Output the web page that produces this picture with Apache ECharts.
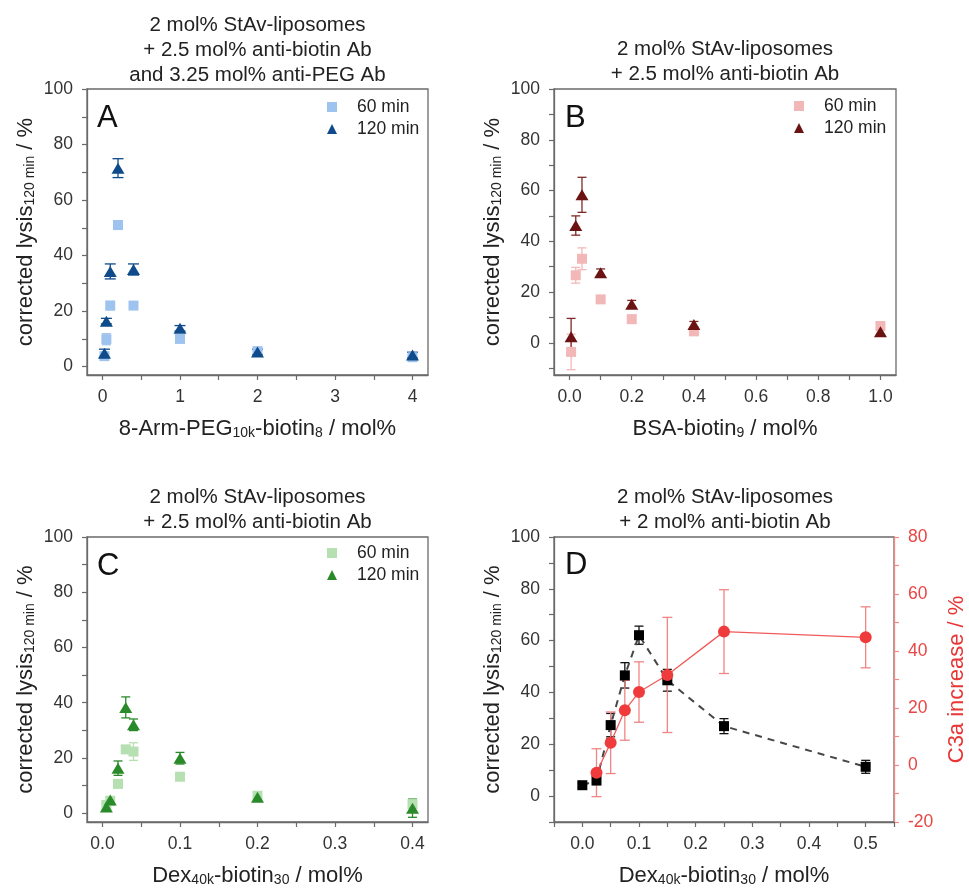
<!DOCTYPE html>
<html>
<head>
<meta charset="utf-8">
<script src="https://cdn.jsdelivr.net/npm/echarts@6/dist/echarts.min.js"></script>
<style>html,body{margin:0;padding:0;background:#fff}#c{width:969px;height:890px}</style>
</head>
<body>
<div id="c"></div>
<script>
// ---------------- DATA ----------------
// Panel A: 8-Arm-PEG10k-biotin8
const aX = [0.025, 0.05, 0.1, 0.2, 0.4, 1, 2, 4];
const a60 = [3.8, 9.9, 22, 51, 22, 10, 5.6, 3.4];
const a60Err = [1, 2, 1.5, 1.5, 1, 0.8, 1, 0.8];
const a120 = [4.8, 16.4, 34.3, 71.5, 35, 13.8, 5.3, 4.2];
const a120Err = [1.5, 1, 2.7, 3.4, 2, 1, 1, 1];

// Panel B: BSA-biotin9
const bX = [0.005, 0.02, 0.04, 0.1, 0.2, 0.4, 1.0];
const b60 = [-3.6, 26.6, 33.1, 17.1, 9.3, 4.5, 6.6];
const b60Err = [7, 3.1, 4.3, 1, 1.5, 1, 1];
const b120 = [2.4, 46.2, 58.3, 27.6, 15.2, 7.2, 4.3];
const b120Err = [7.2, 3.8, 6.9, 1.5, 1.5, 1.2, 1];

// Panel C: Dex40k-biotin30
const cX = [0.005, 0.01, 0.02, 0.03, 0.04, 0.1, 0.2, 0.4];
const c60 = [3.0, 4.5, 10.6, 23.1, 22.3, 13.2, 6.3, 3.3];
const c60Err = [1, 1, 1, 1.2, 3.2, 1, 1, 1.5];
const c120 = [2.2, 4.8, 16.3, 38.3, 32.0, 19.9, 5.8, 1.8];
const c120Err = [1, 1, 2.6, 3.8, 2.1, 2.1, 1, 3.3];

// Panel D: Dex40k-biotin30, lysis + C3a
const dX = [0, 0.025, 0.05, 0.075, 0.1, 0.15, 0.25, 0.5];
const dLysis = [4.2, 6.0, 27.4, 46.6, 62.1, 44.7, 27.0, 11.3];
const dLysisErr = [1, 1.5, 4.5, 4.9, 3.5, 4.2, 2.9, 2.5];
const dC3aX = [0.025, 0.05, 0.075, 0.1, 0.15, 0.25, 0.5];
const dC3a = [-2.7, 7.8, 19.2, 25.6, 31.6, 46.8, 44.8];
const dC3aErr = [8.4, 10.8, 10.5, 10.6, 20.2, 14.7, 10.7];

// tick labels
const aXTicks = [0, 1, 2, 3, 4];
const aXMinor = [0.5, 1.5, 2.5, 3.5];
const bXTicks = [0, 0.2, 0.4, 0.6, 0.8, 1.0];
const bXMinor = [0.1, 0.3, 0.5, 0.7, 0.9];
const cXTicks = [0, 0.1, 0.2, 0.3, 0.4];
const cXMinor = [0.05, 0.15, 0.25, 0.35];
const dXTicks = [0, 0.1, 0.2, 0.3, 0.4, 0.5];
const dXMinor = [-0.05, 0.05, 0.15, 0.25, 0.35, 0.45, 0.55];
const lysisTicks = [0, 20, 40, 60, 80, 100];
const lysisMinor = [10, 30, 50, 70, 90];
const lysisMinorNeg = [-10, 10, 30, 50, 70, 90];
const c3aTicks = [-20, 0, 20, 40, 60, 80];
const c3aMinor = [-10, 10, 30, 50, 70];

const titles = [
  '2 mol% StAv-liposomes\n+ 2.5 mol% anti-biotin Ab\nand 3.25 mol% anti-PEG Ab',
  '2 mol% StAv-liposomes\n+ 2.5 mol% anti-biotin Ab',
  '2 mol% StAv-liposomes\n+ 2.5 mol% anti-biotin Ab',
  '2 mol% StAv-liposomes\n+ 2 mol% anti-biotin Ab'
];
const letters = ['A', 'B', 'C', 'D'];

// ---------------- STYLE ----------------
const FONT = 'Liberation Sans, Arial, sans-serif';
const FRAME = '#6a6a6a';
const TXT = '#222';
const COL = {
  aL: '#9dc3ee', aD: '#0f4a8a',
  bL: '#f2b8b8', bD: '#6b1212',
  cL: '#b6e0b1', cD: '#2a8a2a',
  dK: '#000000', dLine: '#474747', red: '#ef3b3b', redLight: '#f08585'
};
const grids = [
  {left: 87, top: 89, width: 341, height: 286},
  {left: 554, top: 89, width: 342, height: 286},
  {left: 87, top: 537, width: 341, height: 285},
  {left: 554, top: 537, width: 342, height: 285}
];

const subRich = {
  sub: {fontSize: 14, fontFamily: FONT, color: TXT, padding: [9, 0, 0, 0]},
  m: {fontSize: 22, fontFamily: FONT, color: TXT}
};

function xAxis(gi, min, max, ticks, minor, dec, nameRich) {
  return {
    type: 'value', gridIndex: gi, min: min, max: max,
    name: nameRich, nameLocation: 'middle', nameGap: 42,
    nameTextStyle: {fontSize: 22, fontFamily: FONT, color: TXT, rich: subRich},
    axisLine: {show: true, onZero: false, lineStyle: {color: FRAME, width: 1.3}},
    axisTick: {show: true, length: 5, inside: false, customValues: ticks.concat(minor), lineStyle: {color: FRAME, width: 1.2}},
    axisLabel: {show: true, margin: 13, fontSize: 17.5, fontFamily: FONT, color: '#333', customValues: ticks,
      formatter: v => v.toFixed(dec)},
    splitLine: {show: false}
  };
}
function yAxis(gi, min, max, ticks, minor, opts) {
  opts = opts || {};
  const color = opts.color || FRAME;
  return {
    type: 'value', gridIndex: gi, min: min, max: max, position: opts.position || 'left',
    name: opts.name || '', nameLocation: 'middle', nameGap: opts.nameGap || 50, nameRotate: 90,
    nameTextStyle: {fontSize: 22, fontFamily: FONT, color: opts.nameColor || TXT, rich: opts.rich || subRich},
    axisLine: {show: true, onZero: false, lineStyle: {color: color, width: 1.3}},
    axisTick: {show: true, length: 5, inside: false, customValues: ticks.concat(minor), lineStyle: {color: color, width: 1.2}},
    axisLabel: {show: true, margin: 14, fontSize: 17.5, fontFamily: FONT, color: opts.labelColor || '#333', customValues: ticks},
    splitLine: {show: false}
  };
}

const yName = '{m|corrected lysis}{sub|120 min}{m| / %}';

function errSeries(xs, ys, es, color, axi, cap) {
  return {
    type: 'custom', xAxisIndex: axi[0], yAxisIndex: axi[1], silent: true,
    data: xs.map((x, i) => [x, ys[i] - es[i], ys[i] + es[i]]),
    encode: {x: 0, y: [1, 2]},
    renderItem: function (params, api) {
      const lo = api.coord([api.value(0), api.value(1)]);
      const hi = api.coord([api.value(0), api.value(2)]);
      const w = cap / 2;
      const st = {stroke: color, lineWidth: 1.3};
      return {type: 'group', children: [
        {type: 'line', shape: {x1: lo[0], y1: lo[1], x2: hi[0], y2: hi[1]}, style: st},
        {type: 'line', shape: {x1: lo[0] - w, y1: lo[1], x2: lo[0] + w, y2: lo[1]}, style: st},
        {type: 'line', shape: {x1: hi[0] - w, y1: hi[1], x2: hi[0] + w, y2: hi[1]}, style: st}
      ]};
    }
  };
}
function scat(name, xs, ys, color, sym, size, axi) {
  return {
    type: 'scatter', name: name, xAxisIndex: axi[0], yAxisIndex: axi[1],
    data: xs.map((x, i) => [x, ys[i]]), symbol: sym, symbolSize: size,
    itemStyle: {color: color, opacity: 1}
  };
}

const TRI = [13, 11];
const SQ = 10;
const series = [
  errSeries(aX, a60, a60Err, COL.aL, [0, 0], 9),
  scat('A 60 min', aX, a60, COL.aL, 'rect', SQ, [0, 0]),
  errSeries(aX, a120, a120Err, COL.aD, [0, 0], 11),
  scat('A 120 min', aX, a120, COL.aD, 'triangle', TRI, [0, 0]),

  errSeries(bX, b60, b60Err, COL.bL, [1, 1], 9),
  scat('B 60 min', bX, b60, COL.bL, 'rect', SQ, [1, 1]),
  errSeries(bX, b120, b120Err, '#7e2a2a', [1, 1], 9),
  scat('B 120 min', bX, b120, COL.bD, 'triangle', TRI, [1, 1]),

  errSeries(cX, c60, c60Err, COL.cL, [2, 2], 9),
  scat('C 60 min', cX, c60, COL.cL, 'rect', SQ, [2, 2]),
  errSeries(cX, c120, c120Err, COL.cD, [2, 2], 9),
  scat('C 120 min', cX, c120, COL.cD, 'triangle', TRI, [2, 2]),

  errSeries(dX, dLysis, dLysisErr, '#111', [3, 3], 9),
  {
    type: 'line', name: 'D lysis', xAxisIndex: 3, yAxisIndex: 3,
    data: dX.map((x, i) => [x, dLysis[i]]), symbol: 'rect', symbolSize: 10,
    itemStyle: {color: COL.dK}, lineStyle: {color: COL.dLine, width: 2, type: [7, 6]}
  },
  errSeries(dC3aX, dC3a, dC3aErr, COL.redLight, [3, 4], 10),
  {
    type: 'line', name: 'D C3a', xAxisIndex: 3, yAxisIndex: 4,
    data: dC3aX.map((x, i) => [x, dC3a[i]]), symbol: 'circle', symbolSize: 12,
    itemStyle: {color: COL.red}, lineStyle: {color: '#f05a5a', width: 1.3}
  }
];

function legend(prefix, left, top, lightCol, darkCol) {
  return {
    left: left, top: top, orient: 'vertical', itemWidth: 10, itemHeight: 10, itemGap: 4,
    padding: 0, selectedMode: false,
    data: [
      {name: prefix + ' 60 min', icon: 'rect', itemStyle: {color: lightCol}},
      {name: prefix + ' 120 min', icon: 'triangle', itemStyle: {color: darkCol}}
    ],
    formatter: n => n.slice(2),
    textStyle: {fontSize: 17.5, fontFamily: FONT, color: TXT, lineHeight: 18, padding: [0, 0, 0, 15]}
  };
}

const titleCenters = [[257.5, 12.5], [725, 37], [257.5, 485], [725, 485]];
const letterPos = [[97, 103], [565, 103], [97, 551], [565, 550]];
const title = [];
titles.forEach((t, i) => {
  title.push({text: t, left: titleCenters[i][0], top: titleCenters[i][1], textAlign: 'center', padding: 0,
    textStyle: {fontSize: 20.5, fontWeight: 'normal', fontFamily: FONT, color: TXT, lineHeight: 25}});
});
letters.forEach((t, i) => {
  title.push({text: t, left: letterPos[i][0], top: letterPos[i][1], padding: 0,
    textStyle: {fontSize: 31, fontWeight: 'normal', fontFamily: FONT, color: '#111'}});
});

const option = {
  backgroundColor: '#fff',
  animation: false,
  textStyle: {fontFamily: FONT},
  title: title,
  grid: grids.map(g => Object.assign({show: true, borderColor: FRAME, borderWidth: 1.3, backgroundColor: 'transparent', containLabel: false}, g)),
  xAxis: [
    xAxis(0, -0.2, 4.2, aXTicks, aXMinor, 0, '{m|8-Arm-PEG}{sub|10k}{m|-biotin}{sub|8}{m| / mol%}'),
    xAxis(1, -0.05, 1.05, bXTicks, bXMinor, 1, '{m|BSA-biotin}{sub|9}{m| / mol%}'),
    xAxis(2, -0.02, 0.42, cXTicks, cXMinor, 1, '{m|Dex}{sub|40k}{m|-biotin}{sub|30}{m| / mol%}'),
    xAxis(3, -0.05, 0.55, dXTicks, dXMinor, 1, '{m|Dex}{sub|40k}{m|-biotin}{sub|30}{m| / mol%}')
  ],
  yAxis: [
    yAxis(0, -3, 100, lysisTicks, lysisMinor, {name: yName}),
    yAxis(1, -12.7, 100, lysisTicks, lysisMinorNeg, {name: yName}),
    yAxis(2, -3.2, 100, lysisTicks, lysisMinor, {name: yName}),
    yAxis(3, -10, 100, lysisTicks, lysisMinorNeg, {name: yName}),
    yAxis(3, -20, 80, c3aTicks, c3aMinor, {position: 'right', color: '#f08a8a', labelColor: '#e84545',
      name: 'C3a increase / %', nameColor: '#e83535', nameGap: 52,
      rich: {}})
  ],
  legend: [
    legend('A', 327, 98, COL.aL, COL.aD),
    legend('B', 794, 97, COL.bL, COL.bD),
    legend('C', 327, 544, COL.cL, COL.cD)
  ],
  series: series
};

const chart = echarts.init(document.getElementById('c'), null, {renderer: 'canvas'});
chart.setOption(option);
</script>
</body>
</html>
